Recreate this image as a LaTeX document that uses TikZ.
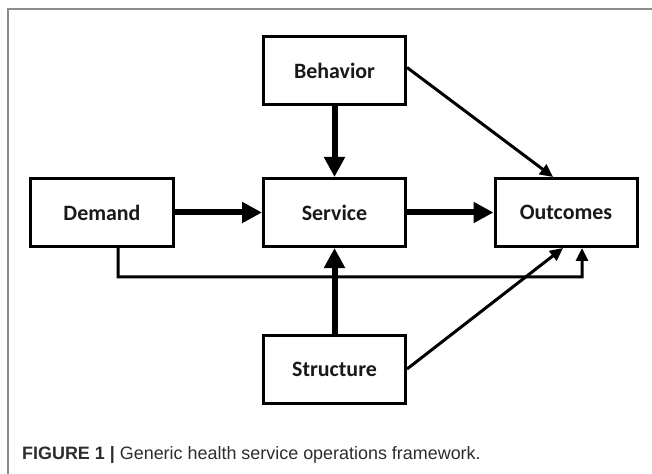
\documentclass[tikz,border=0pt]{standalone}
\usepackage{fontspec}
\newfontfamily\boxfont{Carlito}
\newfontfamily\capfont{Liberation Sans}
\usetikzlibrary{arrows.meta}

\definecolor{framegray}{RGB}{140,140,140}
\definecolor{captext}{RGB}{45,45,45}

\tikzset{
  stage/.style={draw, line width=3bp, minimum width=142bp, minimum height=68bp,
    inner sep=0pt, font=\boxfont\bfseries\fontsize{22}{26}\selectfont, text=black!90},
  mainflow/.style={line width=6bp, -{Triangle[length=20bp, width=20bp]}},
  sideflow/.style={line width=3bp, line join=miter, -{Triangle[length=13bp, width=12bp]}}
}

\begin{document}
\begin{tikzpicture}[x=1bp, y=-1bp]
\useasboundingbox (0,0) rectangle (652,474);
\fill[white] (0,0) rectangle (652,474);
\draw[framegray, line width=1.5bp] (8,480) |- (660,9);

%%%%%%%%%%%% Stages
\node[stage] (behavior)  at (334.5, 70.5)  {Behavior};
\node[stage] (demand)    at (102, 212.5)   {Demand};
\node[stage] (service)   at (334.5, 212.5) {Service};
\node[stage] (outcomes)  at (566, 212.5)   {Outcomes};
\node[stage] (structure) at (334.5, 369)   {Structure};

%%%%%%%%%%%% Flows
\draw[mainflow] (behavior) -- (service);
\draw[mainflow] (demand) -- (service);
\draw[mainflow] (service) -- (outcomes);
\draw[mainflow] (structure) -- (service);

\draw[sideflow] ([yshift=3bp]behavior.east) -- ([xshift=-13bp]outcomes.north);
\draw[sideflow] (structure.east) -- ([xshift=-3bp]outcomes.south);
\coordinate (bend) at (582, 277);
\draw[sideflow] ([xshift=16bp]demand.south) |- (bend) -- ([xshift=16bp]outcomes.south);

%%%%%%%%%%%% Caption
\node[anchor=base west, inner sep=0pt, text=captext, font=\capfont\fontsize{18}{21}\selectfont]
  (caption) at (22, 459) {\textbf{FIGURE 1 |} Generic health service operations framework.};
\end{tikzpicture}
\end{document}
